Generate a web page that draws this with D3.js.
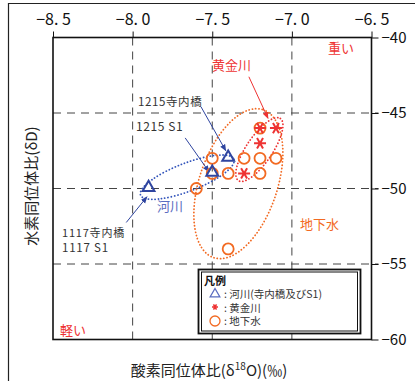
<!DOCTYPE html>
<html lang="ja">
<head>
<meta charset="UTF-8"/>
<title>酸素・水素同位体比</title>
<script src="https://d3js.org/d3.v7.min.js"></script>
<style>
  body { margin: 0; background: #fff; }
  text { font-family: "Noto Sans CJK JP", "Noto Sans", sans-serif; }
</style>
</head>
<body>
<script>
    // axis ticks
    var xTicks = [-8.5, -8.0, -7.5, -7.0, -6.5];
    var yTicks = [-40, -45, -50, -55, -60];

    // 河川 (寺内橋及びS1) : [δ18O, δD]
    var riverX = [-7.40, -7.50, -7.90];
    var riverY = [-48.0, -49.0, -50.0];

    // 黄金川
    var koganeX = [-7.20, -7.10, -7.20, -7.30];
    var koganeY = [-46.0, -46.0, -47.0, -49.0];

    // 地下水
    var gwX = [-7.50, -7.50, -7.40, -7.30, -7.20, -7.10, -7.20, -7.20, -7.60, -7.40];
    var gwY = [-48.0, -49.0, -49.0, -48.0, -48.0, -48.0, -49.0, -46.0, -50.0, -54.0];

    var w = 415, h = 381;
    var pLeft = 53, pRight = 371.5, pTop = 37.5, pBottom = 339.5;

    var blue = "#2f45a0", red = "#ee3333", orange = "#f26a22", ink = "#333";

    var x = d3.scaleLinear().domain([-8.5, -6.5]).range([pLeft, pRight]);
    var y = d3.scaleLinear().domain([-60, -40]).range([pBottom, pTop]);

    var svg = d3.select("body").append("svg")
        .attr("width", w).attr("height", h);

    // outer frame
    svg.append("path")
        .attr("d", "M8.5," + h + "V3.5H" + w)
        .attr("fill", "none").attr("stroke", "#222").attr("stroke-width", 1.2);

    var defs = svg.append("defs");
    function marker(id, col) {
        defs.append("marker").attr("id", id)
            .attr("viewBox", "0 0 10 10").attr("refX", 9).attr("refY", 5)
            .attr("markerWidth", 7).attr("markerHeight", 7)
            .attr("markerUnits", "userSpaceOnUse")
            .attr("orient", "auto")
            .append("path").attr("d", "M0,1L10,5L0,9Z").attr("fill", col);
    }
    marker("ab", blue);
    marker("ar", red);

    // dashed grid
    var grid = svg.append("g").attr("stroke", "#444").attr("stroke-dasharray", "8,6");
    grid.selectAll("line.v").data(xTicks.slice(1, -1)).enter().append("line")
        .attr("x1", d => x(d)).attr("x2", d => x(d))
        .attr("y1", pTop).attr("y2", pBottom);
    grid.selectAll("line.h").data(yTicks.slice(1, -1)).enter().append("line")
        .attr("x1", pLeft).attr("x2", pRight + 7)
        .attr("y1", d => y(d)).attr("y2", d => y(d));

    // plot frame
    svg.append("rect")
        .attr("x", pLeft).attr("y", pTop)
        .attr("width", pRight - pLeft).attr("height", pBottom - pTop)
        .attr("fill", "none").attr("stroke", "#111").attr("stroke-width", 1.6);

    // top axis
    var xAxis = svg.append("g").attr("transform", "translate(0," + pTop + ")")
        .call(d3.axisTop(x).tickValues(xTicks).tickSize(6)
            .tickFormat(d => d3.format(".1f")(d).replace("-", "\u2212").replace(".", ". ")));
    xAxis.select(".domain").remove();
    xAxis.selectAll("line").attr("stroke", "#111");
    xAxis.selectAll("text").attr("font-size", 16).attr("fill", "#111")
        .attr("y", -13).attr("font-family", "Noto Sans CJK JP");

    // right axis
    var yAxis = svg.append("g").attr("transform", "translate(" + pRight + ",0)")
        .call(d3.axisRight(y).tickValues(yTicks).tickSize(7)
            .tickFormat(d => String(d).replace("-", "\u2212")));
    yAxis.select(".domain").remove();
    yAxis.selectAll("line").attr("stroke", "#111");
    yAxis.selectAll("text").attr("font-size", 15).attr("fill", "#111").attr("x", 10);

    // grouping ellipses (centre in data units, radii in px, angle in degrees)
    function ellipse(cx, cy, rx, ry, ang, col) {
        svg.append("ellipse")
            .attr("transform", "translate(" + x(cx) + "," + y(cy) + ") rotate(" + ang + ")")
            .attr("rx", rx).attr("ry", ry)
            .attr("fill", "none").attr("stroke", col).attr("stroke-width", 1.8)
            .attr("stroke-dasharray", "0.1,3.2").attr("stroke-linecap", "round");
    }
    ellipse(-7.657, -49.25, 50, 14, -21, "#3355bb");
    ellipse(-7.336, -49.68, 78, 39, -71.5, orange);
    ellipse(-7.204, -47.42, 37.5, 13, -56, red);

    // arrows
    function arrow(x1, y1, x2, y2, col, id) {
        svg.append("line")
            .attr("x1", x(x1)).attr("y1", y(y1)).attr("x2", x(x2)).attr("y2", y(y2))
            .attr("stroke", col).attr("stroke-width", 1)
            .attr("marker-end", "url(#" + id + ")");
    }
    arrow(-7.57, -44.6, -7.415, -47.5, blue, "ab");
    arrow(-7.67, -46.65, -7.52, -48.9, blue, "ab");
    arrow(-8.04, -52.25, -7.91, -50.55, blue, "ab");
    arrow(-7.27, -42.6, -7.15, -45.35, red, "ar");

    // groundwater circles
    svg.append("g").selectAll("circle").data(gwX).enter().append("circle")
        .attr("cx", d => x(d)).attr("cy", (d, i) => y(gwY[i])).attr("r", 5.5)
        .attr("fill", "none").attr("stroke", orange).attr("stroke-width", 1.8);

    // river triangles
    var tri = d3.symbol().type(d3.symbolTriangle).size(60);
    svg.append("g").selectAll("path").data(riverX).enter().append("path")
        .attr("d", tri)
        .attr("transform", (d, i) => "translate(" + x(d) + "," + (y(riverY[i]) - 1) + ")")
        .attr("fill", "none").attr("stroke", blue).attr("stroke-width", 2);

    // 黄金川 asterisks
    function star(r) {
        var p = d3.path();
        [0, 60, 120].forEach(function(a) {
            var t = a * Math.PI / 180;
            p.moveTo(-r * Math.cos(t), -r * Math.sin(t));
            p.lineTo(r * Math.cos(t), r * Math.sin(t));
        });
        return p.toString();
    }
    svg.append("g").selectAll("path").data(koganeX).enter().append("path")
        .attr("d", star(6))
        .attr("transform", (d, i) => "translate(" + x(d) + "," + y(koganeY[i]) + ")")
        .attr("fill", "none").attr("stroke", red).attr("stroke-width", 2);

    // annotation text
    function label(tx, ty, str, col, size, extra) {
        var t = svg.append("text").attr("x", tx).attr("y", ty)
            .attr("fill", col).attr("font-size", size).text(str);
        if (extra) t.attr("letter-spacing", extra);
        return t;
    }
    label(328, 53, "重い", red, 13);
    label(60, 335, "軽い", red, 13);
    label(212, 70, "黄金川", red, 13);
    label(138, 106, "1215寺内橋", ink, 11.5, 0.6);
    label(136, 131, "1215 S1", ink, 12, 0.6);
    label(62, 237, "1117寺内橋", ink, 11, 0.8);
    label(62, 252, "1117 S1", ink, 11.5, 0.8);
    label(157, 211, "河川", "#5a6cc0", 13);
    label(300, 229, "地下水", orange, 13);

    // legend
    svg.append("rect").attr("x", 198.5).attr("y", 269.5).attr("width", 162).attr("height", 64)
        .attr("fill", "#fff").attr("stroke", "#111").attr("stroke-width", 1.8);
    svg.append("rect").attr("x", 201.5).attr("y", 272).attr("width", 156).attr("height", 59)
        .attr("fill", "none").attr("stroke", "#111").attr("stroke-width", 1);
    label(204, 285, "凡例", "#111", 11).attr("font-weight", "bold");
    var lg = svg.append("g");
    lg.append("path").attr("d", d3.symbol().type(d3.symbolTriangle).size(40))
        .attr("transform", "translate(215,294)")
        .attr("fill", "none").attr("stroke", "#5a6cc0").attr("stroke-width", 1.3);
    lg.append("path").attr("d", star(3))
        .attr("transform", "translate(215,307)")
        .attr("fill", "none").attr("stroke", red).attr("stroke-width", 1.5);
    lg.append("circle").attr("cx", 215).attr("cy", 321).attr("r", 5)
        .attr("fill", "none").attr("stroke", orange).attr("stroke-width", 1.3);
    label(224, 297.5, ": 河川(寺内橋及びS1)", ink, 10.5);
    label(224, 311.5, ": 黄金川", ink, 10.5);
    label(224, 325, ": 地下水", ink, 10.5);

    // axis titles
    var xt = svg.append("text").attr("x", 209).attr("y", 376)
        .attr("text-anchor", "middle").attr("font-size", 15).attr("fill", "#222");
    xt.append("tspan").text("酸素同位体比(δ");
    xt.append("tspan").attr("font-size", 10).attr("dy", -6).text("18");
    xt.append("tspan").attr("dy", 6).text("O)(‰)");

    svg.append("text")
        .attr("transform", "translate(37,186) rotate(-90)")
        .attr("text-anchor", "middle").attr("font-size", 15).attr("fill", "#222")
        .text("水素同位体比(δD)");
</script>
</body>
</html>
